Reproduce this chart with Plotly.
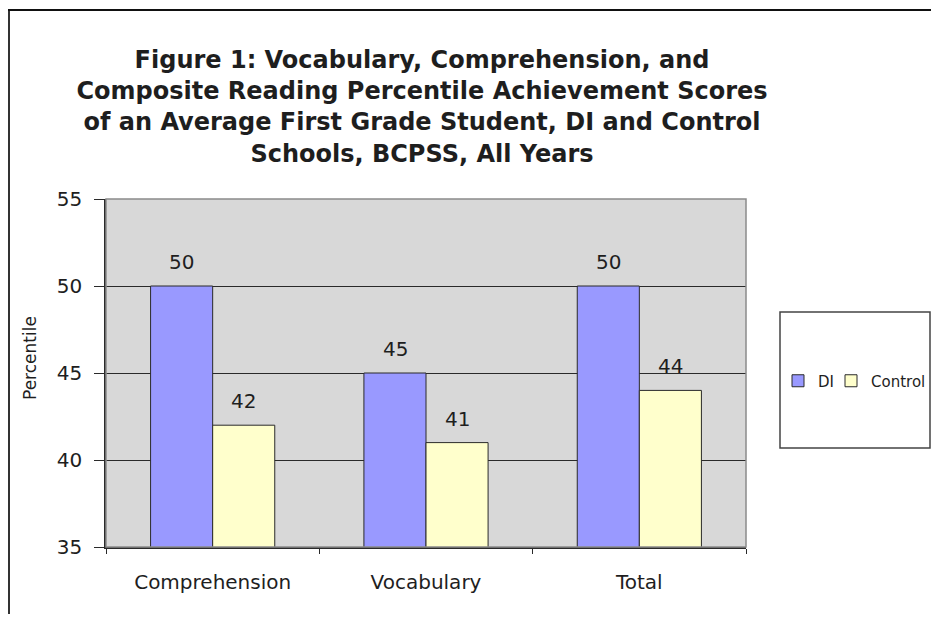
import plotly.graph_objects as go

# ============================================================================
# DATOS
# ============================================================================

categories = ["Comprehension", "Vocabulary", "Total"]
di_values = [50, 45, 50]
control_values = [42, 41, 44]
y_ticks = [35, 40, 45, 50, 55]

FONT = "DejaVu Sans, Liberation Sans, Arial, sans-serif"
TEXT = "#1E1E1E"
DI_COLOR = "#9999FF"
CONTROL_COLOR = "#FFFFCC"

# la página añade 8px de margen al body: la figura se dibuja 8px más abajo/derecha
# (tamaño reducido para que no aparezcan barras de desplazamiento)
W, H = 923, 606
L, T, B = 98, 191, 67
R = W - 738
PW, PH = W - L - R, H - T - B


def px_x(x):
    """píxel (figura) -> coordenada paper en x"""
    return (x - L) / PW


def px_y(y):
    """píxel (figura) -> coordenada paper en y"""
    return (H - B - y) / PH


def bar_trace(name, values, color, legendwidth=None):
    """Barra estilo Excel"""
    return go.Bar(
        name=name,
        x=categories,
        y=values,
        marker=dict(color=color, line=dict(color="#2A2A2A", width=1)),
        legendwidth=legendwidth,
    )


fig = go.Figure([
    bar_trace("DI", di_values, DI_COLOR, legendwidth=8),
    bar_trace("Control", control_values, CONTROL_COLOR),
])

# etiquetas de valor encima de cada barra
annotations = []
for values, shift in [(di_values, -31), (control_values, 31)]:
    for cat, v in zip(categories, values):
        annotations.append(dict(
            x=cat, y=v, text=str(v), showarrow=False,
            xshift=shift, yshift=10, yanchor="bottom",
            font=dict(family=FONT, size=20, color=TEXT),
        ))

# título del eje Y (algo por encima del centro, como en el original)
annotations.append(dict(
    text="Percentile", textangle=-90, showarrow=False,
    xref="paper", yref="paper", x=px_x(22), y=px_y(350),
    xanchor="center", yanchor="middle",
    font=dict(family=FONT, size=17, color=TEXT),
))

title = ("Figure 1: Vocabulary, Comprehension, and<br>"
         "Composite Reading Percentile Achievement Scores<br>"
         "of an Average First Grade Student, DI and Control<br>"
         "Schools, BCPSS, All Years")

fig.update_layout(
    width=W,
    height=H,
    margin=dict(l=L, r=R, t=T, b=B, autoexpand=False),
    paper_bgcolor="white",
    plot_bgcolor="#D8D8D8",
    barmode="group",
    bargap=0.418,
    bargroupgap=0,
    font=dict(family=FONT, size=20, color=TEXT),
    title=dict(
        text=title,
        x=414 / W, xanchor="center",
        y=1 - 60 / H, yanchor="top",
        font=dict(family=FONT, size=24, color=TEXT, weight="bold"),
    ),
    annotations=annotations,
    showlegend=True,
    legend=dict(
        orientation="h",
        x=px_x(770), xanchor="left",
        y=px_y(373), yanchor="middle",
        bgcolor="rgba(0,0,0,0)",
        font=dict(family=FONT, size=15, color=TEXT),
        itemwidth=30,
        traceorder="normal",
    ),
    shapes=[
        # caja de la leyenda
        dict(type="rect", xref="paper", yref="paper",
             x0=px_x(772), x1=px_x(922), y0=px_y(440), y1=px_y(304),
             line=dict(color="#444444", width=1.5), fillcolor="white", layer="below"),
        # borde exterior del gráfico
        dict(type="line", xref="paper", yref="paper",
             x0=px_x(1), x1=px_x(1), y0=px_y(H), y1=px_y(2),
             line=dict(color="#333333", width=2)),
        dict(type="line", xref="paper", yref="paper",
             x0=px_x(0), x1=px_x(W), y0=px_y(2), y1=px_y(2),
             line=dict(color="#111111", width=2)),
        # borde gris del área de trazado
        dict(type="rect", xref="paper", yref="paper",
             x0=0, x1=1, y0=0, y1=1,
             line=dict(color="#8A8A8A", width=1.5)),
    ],
)

fig.update_yaxes(
    range=[35, 55],
    tickvals=y_ticks,
    showgrid=True,
    gridcolor="#2A2A2A",
    gridwidth=1,
    showline=True,
    linecolor="#2A2A2A",
    linewidth=1.5,
    ticks="outside",
    ticklen=10,
    tickcolor="#2A2A2A",
    ticklabelstandoff=8,
    tickfont=dict(family=FONT, size=20, color=TEXT),
    zeroline=False,
)

fig.update_xaxes(
    showline=True,
    linecolor="#2A2A2A",
    linewidth=1.5,
    ticks="outside",
    tickson="boundaries",
    ticklen=5,
    tickcolor="#2A2A2A",
    ticklabelstandoff=16,
    tickfont=dict(family=FONT, size=20, color=TEXT),
    showgrid=False,
)

fig.write_html("out.html")
